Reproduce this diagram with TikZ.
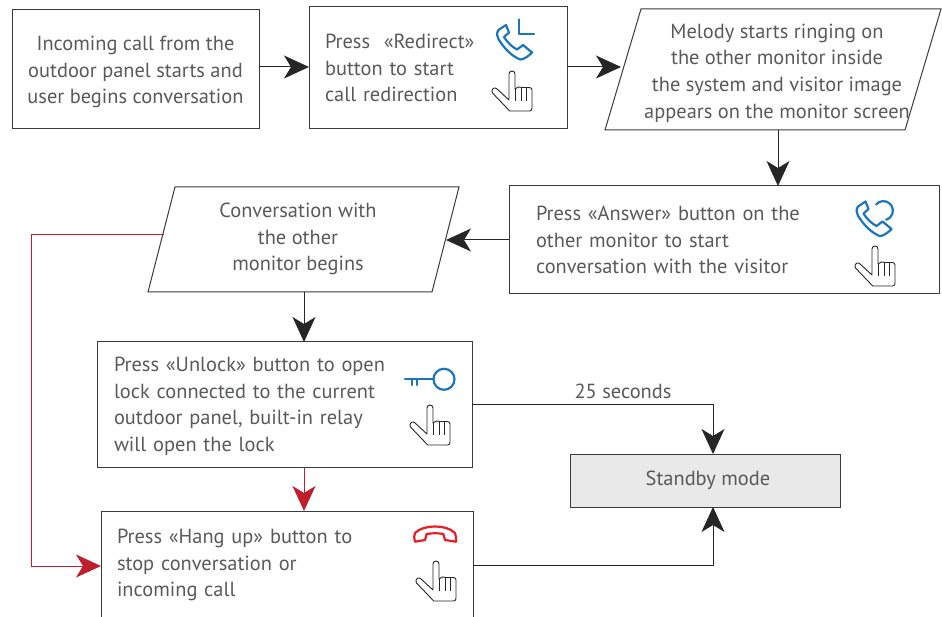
\documentclass[tikz,border=0pt]{standalone}
\usepackage{fontspec}
\setmainfont{PT Sans}
\usetikzlibrary{arrows.meta}
\definecolor{txt}{HTML}{58595B}
\definecolor{ln}{HTML}{3A3A3C}
\definecolor{blueic}{HTML}{1B75BC}
\definecolor{redic}{HTML}{ED1C24}
\definecolor{redln}{HTML}{BE1E2D}
\definecolor{grayfill}{HTML}{E9E9EA}
\tikzset{
  base/.style={text=txt,font=\fontsize{20.4}{26.6}\selectfont,inner sep=0pt,outer sep=0pt},
  boxn/.style={base,draw=ln,line width=1pt},
  textn/.style={base,align=center},
  conn/.style={line width=1pt,draw=black!85,-{Stealth[length=25pt,width=23pt,inset=7pt]}},
  redconn/.style={line width=0.9pt,draw=redln,-{Stealth[length=25pt,width=23pt,inset=7pt]}},
  shapeline/.style={line width=1pt,draw=ln},
  blueicon/.style={draw=blueic,line width=2.2pt,line join=round,line cap=round},
  redicon/.style={draw=redic,line width=2.2pt,line join=round},
  handicon/.style={draw=black!85,line width=0.9pt,fill=white,line join=round}
}
\newcommand{\handat}[2]{%
\begin{scope}[shift={(#1,#2)}]
\draw[handicon] (-3,29) -- (-3,3) arc[start angle=180,end angle=360,radius=3] -- (3,18) .. controls (5,15.5) and (8,15.5) .. (10,16.5) .. controls (12,16.5) and (14,16.5) .. (17,16.5) .. controls (18.5,16.5) and (20,17) .. (20,19) -- (20,37) .. controls (20,38.5) and (19.5,40) .. (17.7,40) -- (-2.3,40) -- (-19.5,22) .. controls (-21.5,19) and (-18,15.5) .. (-15.5,17.5) -- cycle;
\draw[draw=black!85,line width=0.9pt] (3,18) -- (3,30) (9.5,17) -- (9.5,30) (14.5,17) -- (14.5,30);
\end{scope}}
\newcommand{\phoneat}[2]{%
\begin{scope}[shift={(#1,#2)}]
\draw[blueicon] (9,0) -- (1.5,5) .. controls (-1,8) and (0,13) .. (4,18) .. controls (9,25) and (15,31) .. (23,34.5) .. controls (26,35) and (32,31) .. (35,27.5) -- (26,20) -- (20,24.5) .. controls (15,22) and (10,17) .. (7,12) -- (12,7.5) -- cycle;
\end{scope}}
\begin{document}
\begin{tikzpicture}[x=1pt,y=-1pt]
\useasboundingbox (0,0) rectangle (942,617);
% boxes
\node[boxn,align=center,minimum width=247pt,minimum height=119pt] (start) at (135.5,69.5) {\rule{0pt}{20pt}Incoming call from the\\outdoor panel starts and\\user begins conversation};
\node[boxn,align=left,minimum width=258pt,minimum height=122pt,text width=226pt] (redir) at (438,68) {Press\ \ «Redirect»\\button to start\\call redirection};
\draw[shapeline] (641,9) -- (941,9) -- (905,130) -- (605,130) -- cycle;
\node[textn] (melody) at (777,73) {Melody starts ringing on\\the other monitor inside\\the system and visitor image\\appears on the monitor screen};
\node[boxn,align=left,minimum width=430pt,minimum height=108pt,text width=376pt] (answer) at (724,240) {Press «Answer» button on the\\other monitor to start\\conversation with the visitor};
\draw[shapeline] (175,187) -- (459,187) -- (432,292) -- (148,292) -- cycle;
\node[textn] (conv) at (298,239) {Conversation with\\the other\\monitor begins};
\node[boxn,align=left,minimum width=375pt,minimum height=125pt,text width=341pt] (unlock) at (284.5,404.5) {\rule{0pt}{18pt}Press «Unlock» button to open\\lock connected to the current\\outdoor panel, built-in relay\\will open the lock};
\node[base,align=left,minimum width=372pt,minimum height=108pt,text width=340pt] (hang) at (287,565) {Press «Hang up» button to\\stop conversation or\\incoming call};
\draw[shapeline] (hang.south west) -- (hang.north west) -- (hang.north east) -- (hang.south east);
\node[boxn,fill=grayfill,minimum width=270pt,minimum height=53pt] (standby) at (705,480.5) {\hspace{6pt}Standby mode};
\node[base,anchor=base] (sec) at (623,398) {25 seconds};
% connectors
\draw[conn] ([yshift=2.5pt]start.east) -- ([yshift=1pt]redir.west);
\draw[conn] ([yshift=1pt]redir.east) -- (621,67);
\draw[conn] (778,130) -- (778,186);
\draw[conn] (answer.west) -- (446,240);
\draw[conn] (304,292) -- (unlock.north -| 304,0);
\draw[conn] (unlock.east) -- (713,404.5) -- (713,454);
\draw[conn] (hang.east) -- (713,565) -- (713,507);
\draw[redconn] (304,467) -- (304,511);
\draw[redconn] (164,234) -- (31,234) -- (31,566) -- (101,566);
% icons
\phoneat{497}{25}
\draw[blueicon] (519,19.5) -- (519,34.3) -- (534,34.3);
\handat{512}{71}
\phoneat{856.5}{201.5}
\draw[blueicon] (876.1,204.5) arc[start angle=220,end angle=433,radius=9.5];
\handat{875}{246}
\draw[blueicon] (405,379.3) -- (433.5,379.3) (411.7,379.3) -- (411.7,385) (417.3,379.3) -- (417.3,385);
\draw[blueicon] (444,379.3) circle[radius=10.5];
\handat{430}{405}
\draw[redicon] (415,541.7) .. controls (414,538) and (414,535) .. (415,533) .. controls (420,528) and (428,526.5) .. (435,526.5) .. controls (442,526.5) and (450,528) .. (455,533) .. controls (456,535) and (456,538) .. (456,541.7) -- (445,540) -- (443.3,534) .. controls (438,533) and (432,533) .. (426.7,534) -- (425,540) -- cycle;
\handat{436}{561}
\end{tikzpicture}
\end{document}
